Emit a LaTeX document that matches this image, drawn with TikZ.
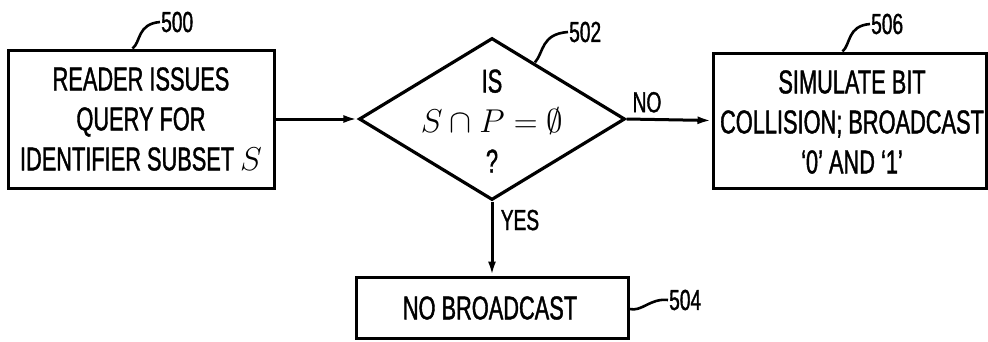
\RequirePackage{fix-cm}
\documentclass[tikz,border=0pt]{standalone}
\usepackage{fontspec}
\setmainfont{Liberation Sans}[FakeStretch=0.66,FakeBold=1.2]
\usetikzlibrary{arrows.meta,shapes.geometric}
\tikzset{
  boxst/.style={draw, line width=3pt, rectangle, inner sep=0pt},
  diast/.style={draw, line width=3.2pt, diamond, inner sep=0pt},
  txt/.style={font=\fontsize{33}{40}\selectfont, align=center},
  lbl/.style={font=\fontsize{29}{34}\selectfont},
  numst/.style={font=\fontsize{29}{34}\selectfont, inner sep=1pt},
  arr/.style={line width=3pt, -{Latex[length=14pt,width=8pt]}},
  lead/.style={line width=2.6pt}
}
\begin{document}
\begin{tikzpicture}[x=1pt,y=-1pt]
\useasboundingbox (0,0) rectangle (988,341);
% boxes
\node[boxst, minimum width=266pt, minimum height=138pt] (b500) at (141,119) {};
\node[txt] at (141,119) {READER ISSUES\\QUERY FOR\\IDENTIFIER SUBSET $S$};
\node[diast, minimum width=266pt, minimum height=162pt] (d502) at (492,119) {};
\node[txt] at (492,121) {IS\\$S\cap P=\emptyset$\\?};
\node[boxst, minimum width=273pt, minimum height=135pt] (b506) at (849.5,120.5) {};
\node[txt] at (852,122) {SIMULATE BIT\\COLLISION; BROADCAST\\`0' AND `1'};
\node[boxst, minimum width=272pt, minimum height=61pt] (b504) at (492,307.5) {};
\node[txt] at (490,308) {NO BROADCAST};
% connectors
\draw[arr] (b500.east) -- (d502.west);
\draw[arr] (d502.east) -- node[lbl, above=2pt, pos=0.24] {NO} (b506.west);
\draw[arr] (d502.south) -- node[lbl, right=4pt, pos=0.25] {YES} (b504.north);
% reference numerals
\node[numst, anchor=west] (n500) at (160,22) {500};
\node[numst, anchor=west] (n502) at (568,32) {502};
\node[numst, anchor=west] (n506) at (870,24) {506};
\node[numst, anchor=west] (n504) at (668,300) {504};
\draw[lead] ([xshift=126pt]b500.north west) .. controls (141,42) and (137,24) .. (n500.west);
\draw[lead] ([xshift=43pt,yshift=-26pt]d502.north) .. controls (544,52) and (541,34) .. (n502.west);
\draw[lead] ([xshift=131pt]b506.north west) .. controls (851,44) and (847,26) .. (n506.west);
\draw[lead] ([yshift=-1.5pt]b504.east) .. controls (642,312) and (650,298) .. (n504.west);
\end{tikzpicture}
\end{document}
